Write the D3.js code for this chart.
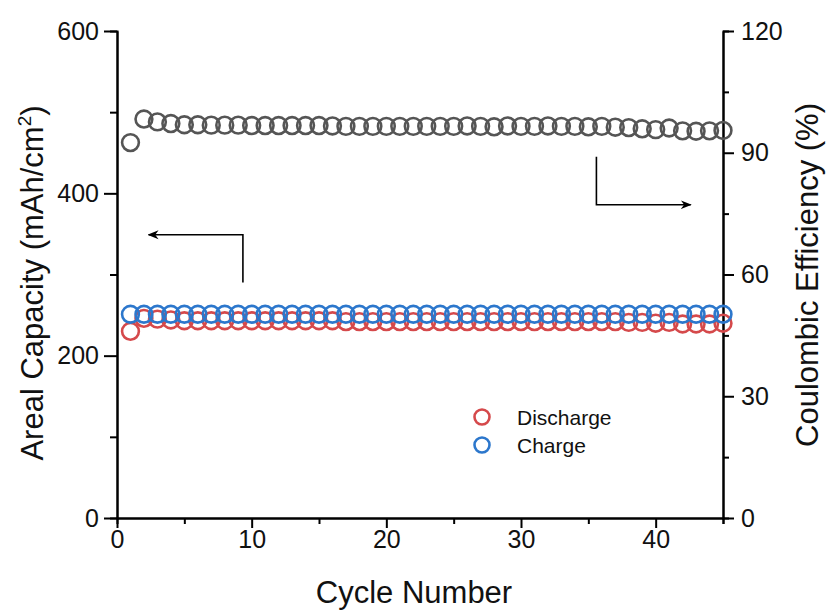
<!DOCTYPE html>
<html>
<head>
<meta charset="utf-8">
<script src="https://cdn.jsdelivr.net/npm/d3@7"></script>
<style>
  body { margin: 0; background: #fff; }
  text { font-family: "Liberation Sans", Arial, sans-serif; fill: #111; }
</style>
</head>
<body>
<svg id="chart" width="829" height="613"></svg>
<script>
// values
const cycles = d3.range(1, 46);
const charge = [251, 251, 251, 251, 251, 251, 251, 251, 251, 251,
  251, 251, 251, 251, 251, 251, 251, 251, 251, 251,
  251, 251, 251, 251, 251, 251, 251, 251, 251, 251,
  251, 251, 251, 251, 251, 251, 251, 251, 251, 251,
  251, 251, 251, 251, 251];
const discharge = [230, 246, 245, 244, 243, 243, 243, 243, 243, 243,
  243, 243, 243, 243, 243, 243, 242, 242, 242, 242,
  242, 242, 242, 242, 242, 242, 242, 242, 242, 242,
  242, 242, 242, 242, 242, 242, 242, 241, 241, 240,
  241, 239, 239, 239, 240];
const efficiency = [92.5, 98.3, 97.6, 97.2, 96.9, 96.9, 96.8, 96.8, 96.8, 96.7,
  96.7, 96.7, 96.7, 96.7, 96.7, 96.6, 96.5, 96.5, 96.5, 96.5,
  96.5, 96.5, 96.5, 96.5, 96.5, 96.6, 96.5, 96.4, 96.6, 96.5,
  96.5, 96.6, 96.5, 96.5, 96.4, 96.5, 96.3, 96.2, 95.9, 95.7,
  96.1, 95.4, 95.3, 95.4, 95.5];
const xTicks = [0, 10, 20, 30, 40];
const leftTicks = [0, 200, 400, 600];
const rightTicks = [0, 30, 60, 90, 120];
const legendItems = ["Discharge", "Charge"];

const colors = { discharge: "#d5494b", charge: "#2c77cc", ce: "#555555" };

const plotLeft = 117, plotRight = 723, plotTop = 31, plotBottom = 518;
const svg = d3.select("#chart");

const x = d3.scaleLinear().domain([0, 45]).range([plotLeft, plotRight]);
const yCap = d3.scaleLinear().domain([0, 600]).range([plotBottom, plotTop]);
const yCE = d3.scaleLinear().domain([0, 120]).range([plotBottom, plotTop]);

// minor ticks first, then major axes
svg.append("g").attr("transform", `translate(0,${plotBottom})`)
  .call(d3.axisBottom(x).tickValues([5, 15, 25, 35, 45]).tickSize(6).tickFormat(""));
svg.append("g").attr("transform", `translate(${plotLeft},0)`)
  .call(d3.axisLeft(yCap).tickValues([100, 300, 500]).tickSize(7).tickFormat(""));
svg.append("g").attr("transform", `translate(${plotRight},0)`)
  .call(d3.axisRight(yCE).tickValues([15, 45, 75, 105]).tickSize(6).tickFormat(""));

const xAxis = svg.append("g").attr("transform", `translate(0,${plotBottom})`)
  .call(d3.axisBottom(x).tickValues(xTicks).tickSize(10).tickSizeOuter(0).tickPadding(2));
const yAxisL = svg.append("g").attr("transform", `translate(${plotLeft},0)`)
  .call(d3.axisLeft(yCap).tickValues(leftTicks).tickSize(13).tickSizeOuter(0).tickPadding(5));
const yAxisR = svg.append("g").attr("transform", `translate(${plotRight},0)`)
  .call(d3.axisRight(yCE).tickValues(rightTicks).tickSize(11).tickSizeOuter(0).tickPadding(7));

svg.selectAll(".domain").attr("stroke", "#000").attr("stroke-width", 2);
svg.selectAll(".tick line").attr("stroke", "#000").attr("stroke-width", 2);
[xAxis, yAxisL, yAxisR].forEach(a => a.selectAll("text")
  .style("font-size", "25px").attr("fill", "#111"));

// axis titles
svg.append("text").attr("x", 414).attr("y", 603).attr("text-anchor", "middle")
  .style("font-size", "31px").text("Cycle Number");

const lt = svg.append("text").attr("transform", "translate(43,283) rotate(-90)")
  .attr("text-anchor", "middle").style("font-size", "31px");
lt.append("tspan").text("Areal Capacity (mAh/cm");
lt.append("tspan").attr("dy", -12).style("font-size", "19px").text("2");
lt.append("tspan").attr("dy", 12).text(")");

svg.append("text").attr("transform", "translate(818,275) rotate(-90)")
  .attr("text-anchor", "middle").style("font-size", "31px").text("Coulombic Efficiency (%)");

// data markers
function drawSeries(values, yScale, color) {
  svg.append("g").selectAll("circle")
    .data(values).enter().append("circle")
    .attr("cx", (d, i) => x(cycles[i]))
    .attr("cy", d => yScale(d))
    .attr("r", 8.4)
    .attr("fill", "none")
    .attr("stroke", color)
    .attr("stroke-width", 2.6);
}
drawSeries(discharge, yCap, colors.discharge);
drawSeries(charge, yCap, colors.charge);
drawSeries(efficiency, yCE, colors.ce);

// arrows pointing at the axes
svg.append("defs").append("marker")
  .attr("id", "head").attr("viewBox", "0 0 10 10")
  .attr("refX", 9).attr("refY", 5)
  .attr("markerWidth", 11).attr("markerHeight", 11)
  .attr("markerUnits", "userSpaceOnUse").attr("orient", "auto")
  .append("path").attr("d", "M0,1 L10,5 L0,9 L3,5 Z").attr("fill", "#000");

const arrowL = [[x(9.35), yCap(290)], [x(9.35), yCap(349)], [x(2.35), yCap(349)]];
const arrowR = [[x(35.6), yCE(89)], [x(35.6), yCE(77.2)], [x(42.6), yCE(77.2)]];
[arrowL, arrowR].forEach(pts => svg.append("path")
  .attr("d", d3.line()(pts))
  .attr("fill", "none").attr("stroke", "#000").attr("stroke-width", 1.6)
  .attr("marker-end", "url(#head)"));

// legend
const legend = svg.append("g").attr("transform", "translate(482,417)");
legendItems.forEach((name, i) => {
  const g = legend.append("g").attr("transform", `translate(0,${i * 28})`);
  g.append("circle").attr("r", 7.5).attr("fill", "none")
    .attr("stroke", i === 0 ? colors.discharge : colors.charge).attr("stroke-width", 2.6);
  g.append("text").attr("x", 35).attr("y", 7.5).style("font-size", "21px").text(name);
});
</script>
</body>
</html>
